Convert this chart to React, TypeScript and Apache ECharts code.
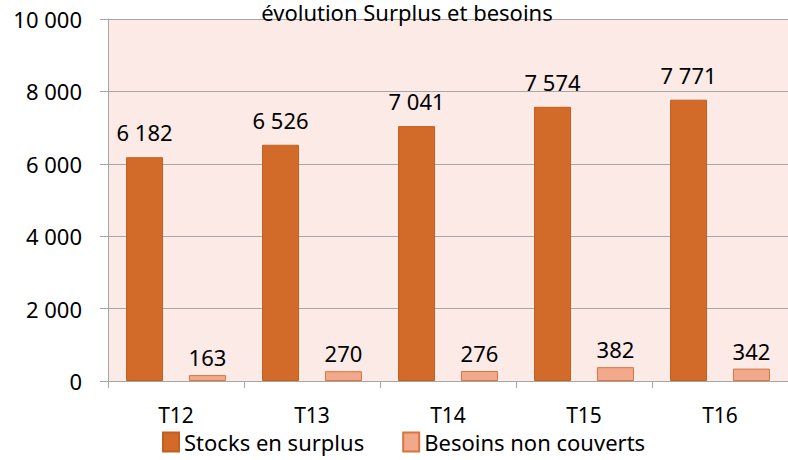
import React, { useEffect, useRef } from "react";
import * as echarts from "echarts";

const categories = ["T12", "T13", "T14", "T15", "T16"];
const stocksSurplus = [6182, 6526, 7041, 7574, 7771];
const besoinsNonCouverts = [163, 270, 276, 382, 342];
const seriesNames = ["Stocks en surplus", "Besoins non couverts"];
const titleText = "évolution Surplus et besoins";

const FONT = "Noto Sans";
const fmt = (v: number) => String(Math.round(v)).replace(/\B(?=(\d{3})+(?!\d))/g, " ");

export default function App() {
  const ref = useRef<HTMLDivElement>(null);
  useEffect(() => {
    const chart = echarts.init(ref.current!, undefined, { renderer: "svg" });
    const labelStyle = (distance: number) => ({
      show: true,
      position: "top" as const,
      distance,
      fontFamily: FONT,
      fontSize: 22,
      color: "#000",
      formatter: (p: any) => fmt(p.value),
    });
    chart.setOption({
      animation: false,
      backgroundColor: "#ffffff",
      textStyle: { fontFamily: FONT },
      title: {
        text: titleText,
        left: 407,
        textAlign: "center",
        top: 1,
        padding: 0,
        textStyle: { fontFamily: FONT, fontSize: 22, fontWeight: "normal", color: "#000", lineHeight: 22 },
      },
      legend: {
        data: seriesNames,
        left: 162,
        top: 431,
        itemWidth: 16,
        itemHeight: 19,
        itemGap: 38,
        padding: 0,
        textStyle: { fontFamily: FONT, fontSize: 22, color: "#000" },
        icon: "rect",
      },
      grid: { left: 108, top: 19, bottom: 79, right: -7, containLabel: false, show: true, backgroundColor: "#FBEAE5", borderWidth: 0 },
      xAxis: {
        type: "category",
        data: categories,
        axisLine: { show: true, lineStyle: { color: "#A6A6A6", width: 1 } },
        axisTick: { show: true, length: 7, lineStyle: { color: "#A6A6A6" } },
        axisLabel: { fontFamily: FONT, fontSize: 21, color: "#000", margin: 23 },
        splitLine: { show: false },
      },
      yAxis: {
        type: "value",
        min: 0,
        max: 10000,
        interval: 2000,
        axisLine: { show: true, lineStyle: { color: "#A6A6A6", width: 1 } },
        axisTick: { show: true, length: 8, lineStyle: { color: "#A6A6A6" } },
        axisLabel: { fontFamily: FONT, fontSize: 22, color: "#000", margin: 26, formatter: (v: number) => fmt(v) },
        splitLine: { show: true, lineStyle: { color: "#A6A6A6", width: 1 } },
      },
      series: [
        {
          name: seriesNames[0],
          type: "bar",
          data: stocksSurplus,
          barWidth: 37,
          barGap: "70%",
          itemStyle: { color: "#D26A2A", borderColor: "#C0601F", borderWidth: 1 },
          label: labelStyle(14),
        },
        {
          name: seriesNames[1],
          type: "bar",
          data: besoinsNonCouverts,
          barWidth: 37,
          barGap: "70%",
          itemStyle: { color: "#F2A98B", borderColor: "#D8743E", borderWidth: 1 },
          label: labelStyle(7),
        },
      ],
    });
    return () => chart.dispose();
  }, []);
  return <div ref={ref} style={{ position: "fixed", left: 0, top: 0, width: 788, height: 460 }} />;
}
